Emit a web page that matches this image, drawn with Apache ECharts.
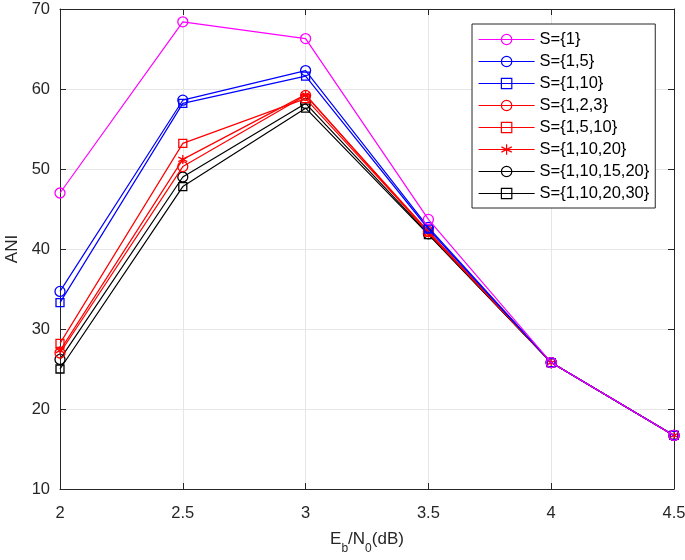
<!DOCTYPE html>
<html>
<head>
<meta charset="utf-8">
<script src="https://cdn.jsdelivr.net/npm/echarts@6/dist/echarts.min.js"></script>
<style>html,body{margin:0;padding:0;background:#fff}#c{width:685px;height:560px}</style>
</head>
<body>
<div id="c"></div>
<script>
const xValues = [2, 2.5, 3, 3.5, 4, 4.5];
const s1      = [47.0, 68.4, 66.3, 43.7, 25.8, 16.7];
const s15     = [34.7, 58.6, 62.3, 42.7, 25.8, 16.7];
const s110    = [33.3, 58.2, 61.6, 42.5, 25.8, 16.7];
const s123    = [27.0, 50.3, 59.2, 42.2, 25.8, 16.7];
const s1510   = [28.2, 53.2, 58.8, 42.1, 25.8, 16.7];
const s11020  = [27.3, 51.2, 59.3, 42.0, 25.8, 16.7];
const s1101520 = [26.2, 49.0, 58.2, 41.9, 25.8, 16.7];
const s1102030 = [25.0, 47.8, 57.6, 41.8, 25.8, 16.7];
const seriesNames = ['S={1}','S={1,5}','S={1,10}','S={1,2,3}','S={1,5,10}','S={1,10,20}','S={1,10,15,20}','S={1,10,20,30}'];
const seriesData = [s1, s15, s110, s123, s1510, s11020, s1101520, s1102030];
const colors = ['#ff00ff','#0000ff','#0000ff','#ff0000','#ff0000','#ff0000','#000000','#000000'];
const symbols = ['circle','circle','rect','circle','rect',
  'path://M0,-10L0,10M-8.66,-5L8.66,5M-8.66,5L8.66,-5','circle','rect'];
const symSizes = [10,10,8,10,8,9,10,8];

const chart = echarts.init(document.getElementById('c'), null, {renderer:'canvas'});
const font = 'Liberation Sans, Arial, sans-serif';
const series = seriesNames.map((n,i)=>({
  name:n, type:'line',
  data: xValues.map((x,j)=>[x, seriesData[i][j]]),
  symbol: symbols[i], symbolSize: symSizes[i],
  showAllSymbol:true,
  lineStyle:{color:colors[i], width:1.2},
  itemStyle:{color:'rgba(255,255,255,0)', borderColor:colors[i], borderWidth:1.3},
  emphasis:{disabled:true},
  animation:false, z: 10 - i
}));
chart.setOption({
  animation:false,
  backgroundColor:'#fff',
  grid:{left:60, right:11, top:9, bottom:71, containLabel:false, outerBoundsMode:'none'},
  legend:{
    orient:'vertical', left:472, top:24, width:184,
    backgroundColor:'#fff', borderColor:'#262626', borderWidth:1,
    padding:[7,6,6,6], itemGap:5, itemWidth:56, itemHeight:13,
    itemStyle:{borderWidth:1.2}, lineStyle:{width:1.2},
    textStyle:{fontFamily:font, fontSize:16.5, color:'#000'},
    data: seriesNames
  },
  xAxis:[{
    type:'value', min:2, max:4.5, interval:0.5,
    name:'{n|E}{s|b}{n|/N}{s|0}{n|(dB)}', nameLocation:'middle', nameGap:42,
    nameTextStyle:{rich:{n:{fontFamily:font,fontSize:17,color:'#262626',verticalAlign:'top'},s:{fontFamily:font,fontSize:12,color:'#262626',padding:[12,0,0,0]}}},
    axisLine:{lineStyle:{color:'#262626',width:1}},
    axisTick:{inside:true,length:6,lineStyle:{color:'#262626'}},
    axisLabel:{fontFamily:font,fontSize:16.5,color:'#262626',margin:16},
    splitLine:{show:true,lineStyle:{color:'#e6e6e6',width:1}}
  },{
    type:'value', position:'top', min:2, max:4.5, interval:0.5,
    axisLine:{lineStyle:{color:'#262626',width:1}},
    axisTick:{inside:true,length:6,lineStyle:{color:'#262626'}},
    axisLabel:{show:false}, splitLine:{show:false}
  }],
  yAxis:[{
    type:'value', min:10, max:70, interval:10,
    name:'ANI', nameLocation:'middle', nameGap:36,
    nameTextStyle:{fontFamily:font,fontSize:17,color:'#262626'},
    axisLine:{lineStyle:{color:'#262626',width:1}},
    axisTick:{inside:true,length:6,lineStyle:{color:'#262626'}},
    axisLabel:{fontFamily:font,fontSize:16.5,color:'#262626',margin:10},
    splitLine:{show:true,lineStyle:{color:'#e6e6e6',width:1}}
  },{
    type:'value', position:'right', min:10, max:70, interval:10,
    axisLine:{show:true,lineStyle:{color:'#262626',width:1}},
    axisTick:{show:true,inside:true,length:6,lineStyle:{color:'#262626'}},
    axisLabel:{show:false}, splitLine:{show:false}
  }],
  series: series
});
</script>
</body>
</html>
